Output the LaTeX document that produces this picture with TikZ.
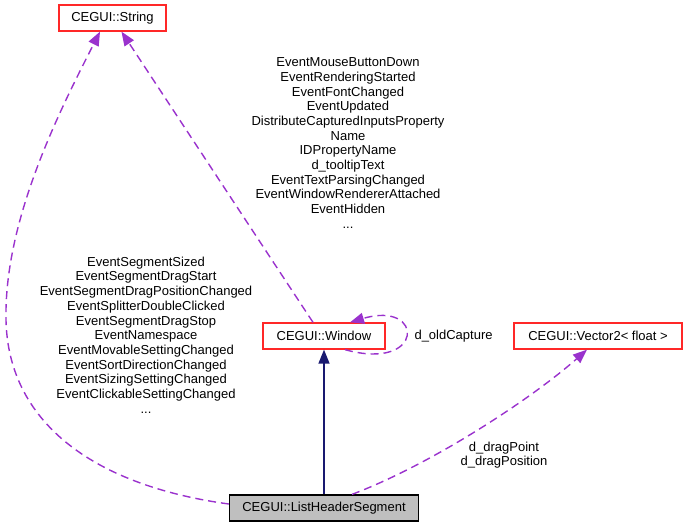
\documentclass[tikz,border=0pt]{standalone}
\usepackage{fontspec}
\setmainfont{Liberation Sans}
\usetikzlibrary{arrows.meta}
\definecolor{classedge}{RGB}{255,40,40}
\definecolor{usedby}{RGB}{154,50,205}
\definecolor{inherit}{RGB}{25,25,112}
\definecolor{mainfill}{RGB}{191,191,191}
\tikzset{classbox/.style={draw=classedge,line width=1.3pt,minimum height=26pt,inner xsep=0pt},
 mainbox/.style={draw=black,fill=mainfill,line width=1.3pt,minimum height=26pt,inner xsep=0pt},
 usage/.style={usedby,line width=1.4pt,dash pattern=on 8pt off 5pt,-{Triangle[length=14pt,width=11pt]}},
 derived/.style={inherit,line width=1.4pt,-{Triangle[length=14pt,width=11pt]}},
 every node/.style={font=\fontsize{13}{14.7}\selectfont}}

\begin{document}
\begin{tikzpicture}[x=1pt,y=-1pt]
\useasboundingbox (0,0) rectangle (687,527);
\node[classbox,minimum width=107pt] (str) at (112.5,18) {CEGUI::String};
\node[classbox,minimum width=122pt] (win) at (324,336) {CEGUI::Window};
\node[classbox,minimum width=168pt] (vec) at (598,336) {CEGUI::Vector2< float >};
\node[mainbox,minimum width=189pt] (seg) at (324,508) {CEGUI::ListHeaderSegment};
\draw[derived] (seg.north) -- (win.south);
\draw[usage] ([yshift=4pt]seg.west) .. controls (90,485) and (8,420) .. (6,320)
 .. controls (4,220) and (60,110) .. ([xshift=-12.5pt]str.south);
\draw[usage] ([xshift=-11pt]win.north) -- ([xshift=9pt]str.south);
\draw[usage] ([xshift=21pt]win.south) .. controls (425,372) and (425,300) .. ([xshift=26pt]win.north);
\draw[usage] ([xshift=28pt]seg.north) .. controls (430,465) and (530,400) .. ([xshift=-11pt]vec.south);
\node[align=center] (winlbl) at (348,143) {EventMouseButtonDown\\EventRenderingStarted\\EventFontChanged\\EventUpdated\\DistributeCapturedInputsProperty\\Name\\IDPropertyName\\d\_tooltipText\\EventTextParsingChanged\\EventWindowRendererAttached\\EventHidden\\...};
\node[align=center] (seglbl) at (146,335) {EventSegmentSized\\EventSegmentDragStart\\EventSegmentDragPositionChanged\\EventSplitterDoubleClicked\\EventSegmentDragStop\\EventNamespace\\EventMovableSettingChanged\\EventSortDirectionChanged\\EventSizingSettingChanged\\EventClickableSettingChanged\\...};
\node[anchor=west] (looplbl) at (411,336) {d\_oldCapture};
\node[align=center] (veclbl) at (504,455) {d\_dragPoint\\d\_dragPosition};
\end{tikzpicture}
\end{document}
